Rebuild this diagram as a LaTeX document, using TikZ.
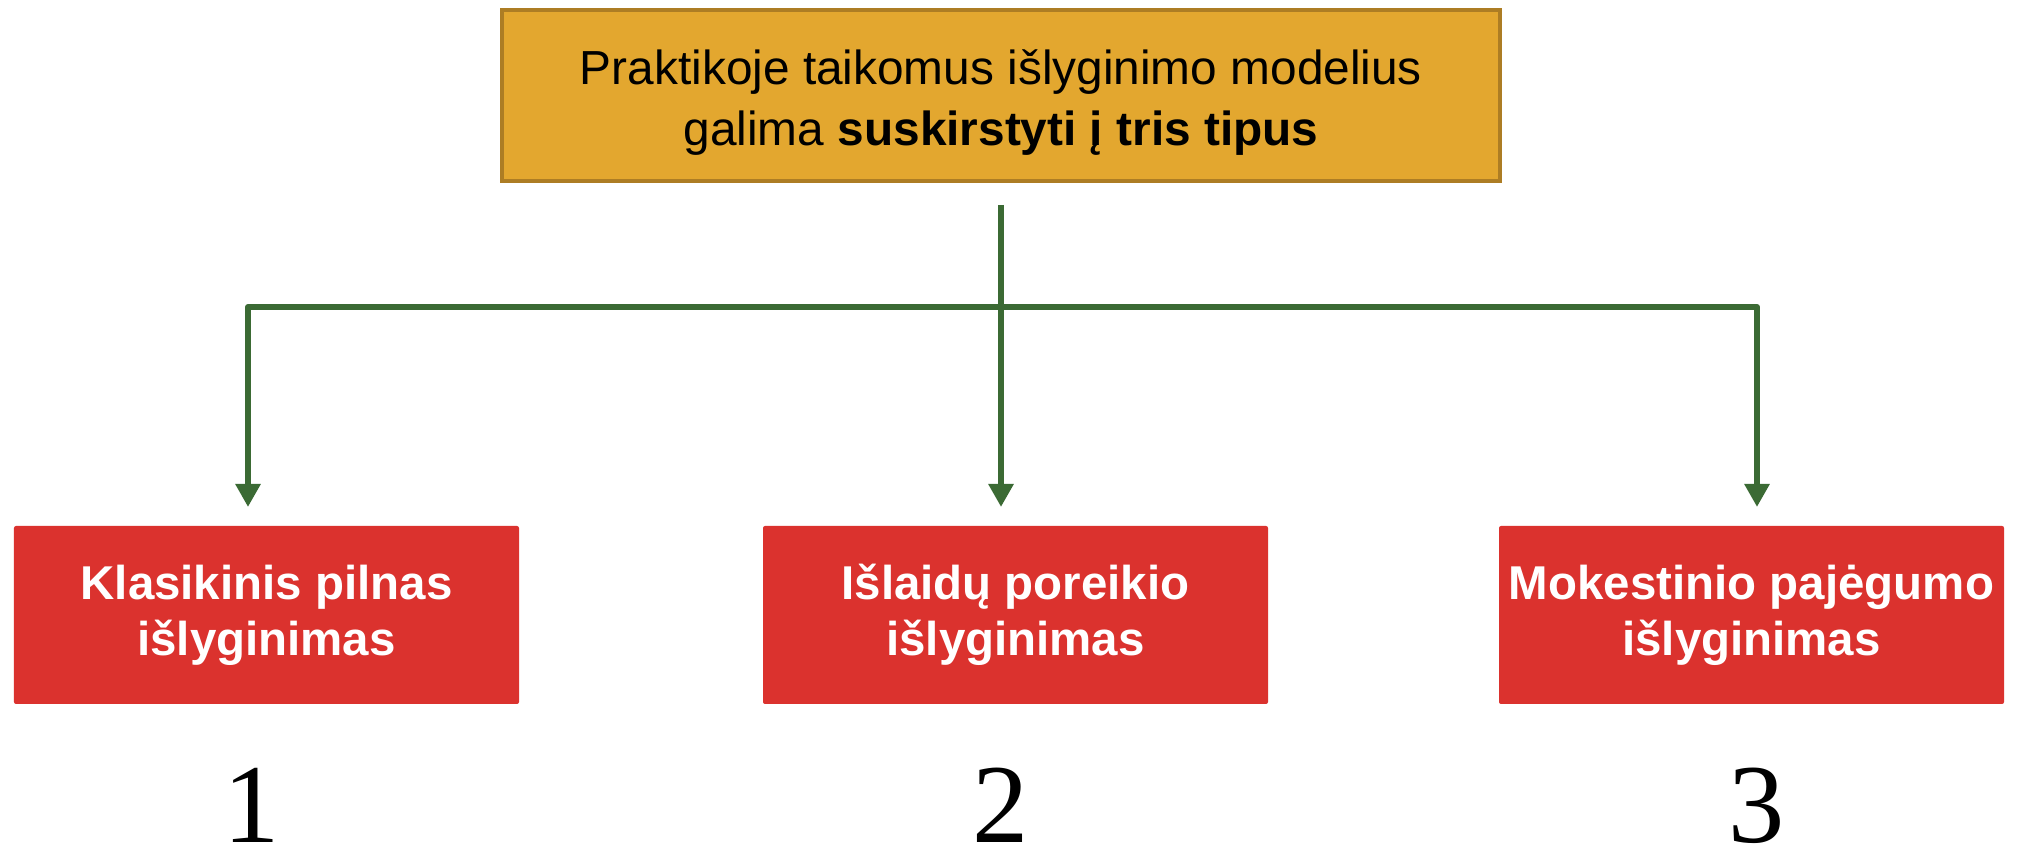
\documentclass[tikz,border=0pt]{standalone}
\usepackage{fontspec}
\setmainfont{Liberation Sans}
\newfontfamily\numfont{Liberation Serif}
\usepackage{xcolor}
\definecolor{topfill}{HTML}{E3A72F}
\definecolor{topline}{HTML}{AD7D24}
\definecolor{boxred}{HTML}{DB322E}
\definecolor{flowgreen}{HTML}{3B6A34}
\usepackage{tikz}
\usetikzlibrary{arrows.meta, positioning, calc}

\tikzset{
  topbox/.style={draw=topline, line width=0.04cm, fill=topfill, minimum width=9.98cm, minimum height=1.71cm},
  toptext/.style={align=center, font=\fontsize{13.6}{17.4}\selectfont, inner sep=0pt},
  typebox/.style={fill=boxred, rounded corners=0.02cm, minimum width=5.05cm, minimum height=1.78cm,
    align=center, text=white, font=\fontsize{13.5}{16}\selectfont\bfseries, inner sep=0pt},
  flow/.style={draw=flowgreen, line width=0.06cm, line join=round, -{Triangle[width=0.24cm, length=0.23cm]}},
  typenum/.style={font=\fontsize{32}{36}\numfont, anchor=base, inner sep=0pt}
}

\begin{document}
\begin{tikzpicture}
  \useasboundingbox (0,0) rectangle (20.18,8.49);

  % Top box
  \node[topbox] (top) at (10.01,7.535) {};
  \node[toptext] (toplbl) at ([yshift=-0.07cm]top.center) {Praktikoje taikomus išlyginimo modelius\\galima \textbf{suskirstyti į tris tipus}};

  % Three types
  \node[typebox] (klas) at (2.665,2.34) {Klasikinis pilnas\\išlyginimas};
  \node[typebox] (islaid) at (10.155,2.34) {Išlaidų poreikio \\išlyginimas};
  \node[typebox] (mok) at (17.515,2.34) {Mokestinio pajėgumo\\išlyginimas};

  % Numbers under the boxes
  \node[typenum] (n1) at (2.52,0.06) {1};
  \node[typenum] (n2) at (10.01,0.06) {2};
  \node[typenum] (n3) at (17.57,0.06) {3};

  % Connectors
  \coordinate (stem) at ([yshift=-0.22cm]top.south);
  \coordinate (hub) at (10.01,5.42);
  \coordinate (t1) at (2.48,3.42);
  \coordinate (t2) at (10.01,3.42);
  \coordinate (t3) at (17.57,3.42);
  \draw[flow] (stem) -- (t2);
  \draw[flow] (hub) -| (t1);
  \draw[flow] (hub) -| (t3);
\end{tikzpicture}
\end{document}
